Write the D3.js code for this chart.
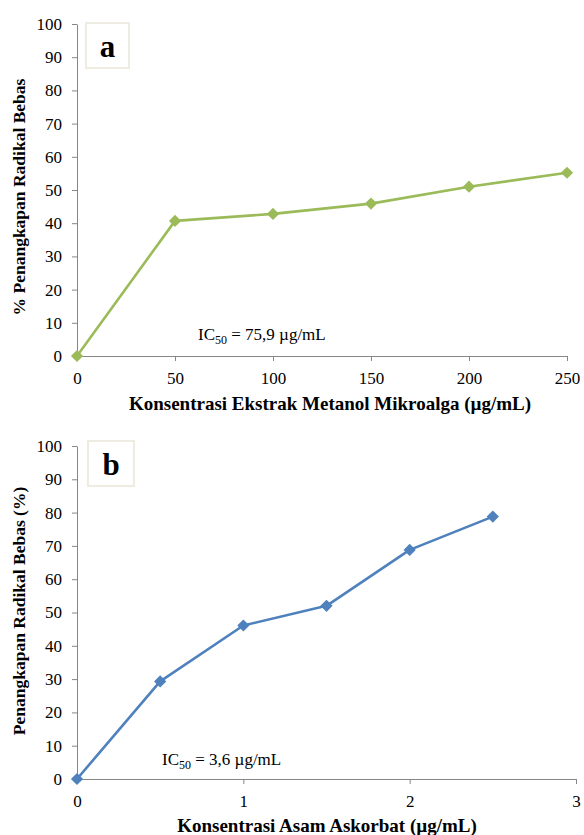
<!DOCTYPE html>
<html>
<head>
<meta charset="utf-8">
<script src="https://cdn.jsdelivr.net/npm/d3@7"></script>
<style>
  body { margin: 0; background: #fff; }
  svg text { font-family: "Liberation Serif", "Times New Roman", serif; fill: #000; }
</style>
</head>
<body>
<div id="chart"></div>
<script>
// panel a: ekstrak metanol mikroalga
const konsentrasiA = [0, 50, 100, 150, 200, 250];
const penangkapanA = [0, 40.7, 42.8, 45.9, 51.0, 55.2];
const ticksXA = [0, 50, 100, 150, 200, 250];

// panel b: asam askorbat
const konsentrasiB = [0, 0.5, 1, 1.5, 2, 2.5];
const penangkapanB = [0, 29.3, 46.1, 52.0, 68.8, 78.8];
const ticksXB = [0, 1, 2, 3];

const ticksY = [0, 10, 20, 30, 40, 50, 60, 70, 80, 90, 100];

const svg = d3.select("#chart").append("svg").attr("width", 584).attr("height", 835);

function gambarPanel(cfg) {
    const x = d3.scaleLinear().domain(cfg.domainX).range([77, cfg.xKanan]);
    const y = d3.scaleLinear().domain([0, 100]).range([cfg.y0, cfg.y100]);
    const g = svg.append("g");

    // sumbu y
    const sumbuY = g.append("g").attr("transform", "translate(77,0)")
        .call(d3.axisLeft(y).tickValues(ticksY).tickFormat(d3.format("d")).tickSize(5).tickPadding(10).tickSizeOuter(0));
    sumbuY.select(".domain").attr("stroke", "#868686");
    sumbuY.selectAll(".tick line").attr("stroke", "#868686");
    sumbuY.selectAll(".tick text").style("font-size", "17px").style("font-family", "Liberation Serif").attr("fill", "#000");

    // sumbu x
    const sumbuX = g.append("g").attr("transform", `translate(0,${cfg.y0})`)
        .call(d3.axisBottom(x).tickValues(cfg.ticksX).tickFormat(d3.format("d")).tickSize(5).tickPadding(11).tickSizeOuter(0));
    sumbuX.select(".domain").attr("stroke", "#868686");
    sumbuX.selectAll(".tick line").attr("stroke", "#868686");
    sumbuX.selectAll(".tick text").style("font-size", "17px").style("font-family", "Liberation Serif").attr("fill", "#000");

    // garis data
    const garis = d3.line().x(d => x(d[0])).y(d => y(d[1]));
    const pts = cfg.xs.map((v, i) => [v, cfg.ys[i]]);
    g.append("path").datum(pts)
        .attr("d", garis)
        .attr("fill", "none")
        .attr("stroke", cfg.warna)
        .attr("stroke-width", 2.6)
        .attr("stroke-linejoin", "round");

    g.selectAll(".penanda").data(pts).enter().append("path")
        .attr("class", "penanda")
        .attr("transform", d => `translate(${x(d[0])},${y(d[1])})`)
        .attr("d", d3.symbol().type(d3.symbolDiamond2).size(95))
        .attr("fill", cfg.warna);

    // kotak label
    g.append("rect")
        .attr("x", cfg.kotak[0]).attr("y", cfg.kotak[1])
        .attr("width", cfg.kotak[2]).attr("height", cfg.kotak[3])
        .attr("fill", "#fff").attr("stroke", "#eeece1").attr("stroke-width", 2);
    g.append("text")
        .attr("x", cfg.kotak[0] + cfg.kotak[2] / 2)
        .attr("y", cfg.kotak[1] + cfg.kotak[3] / 2 + 11)
        .attr("text-anchor", "middle")
        .style("font-size", "31px").style("font-weight", "bold")
        .text(cfg.huruf);

    // IC50
    const ic = g.append("text").attr("x", cfg.icPos[0]).attr("y", cfg.icPos[1]).style("font-size", "17px");
    ic.append("tspan").text("IC");
    ic.append("tspan").attr("dy", 4).style("font-size", "12px").text("50");
    ic.append("tspan").attr("dy", -4).text(` = ${cfg.ic50} µg/mL`);

    // judul sumbu
    g.append("text")
        .attr("transform", `translate(${cfg.judulY[0]},${cfg.judulY[1]}) rotate(-90)`)
        .attr("text-anchor", "middle")
        .style("font-size", "17.5px").style("font-weight", "bold")
        .text(cfg.labelY);
    g.append("text")
        .attr("x", cfg.judulX[0]).attr("y", cfg.judulX[1])
        .attr("text-anchor", "middle")
        .style("font-size", "19px").style("font-weight", "bold")
        .text(cfg.labelX);
}

gambarPanel({
    domainX: [0, 250], xKanan: 567, y0: 356, y100: 24,
    ticksX: ticksXA, xs: konsentrasiA, ys: penangkapanA,
    warna: "#9bbb59", huruf: "a", kotak: [86, 23, 43, 45],
    icPos: [198, 340], ic50: "75,9",
    labelY: "% Penangkapan Radikal Bebas", judulY: [25, 197],
    labelX: "Konsentrasi Ekstrak Metanol Mikroalga (µg/mL)", judulX: [330, 410]
});

gambarPanel({
    domainX: [0, 3], xKanan: 576, y0: 779, y100: 446,
    ticksX: ticksXB, xs: konsentrasiB, ys: penangkapanB,
    warna: "#4f81bd", huruf: "b", kotak: [88, 441, 46, 45],
    icPos: [162, 765], ic50: "3,6",
    labelY: "Penangkapan Radikal Bebas (%)", judulY: [25, 611],
    labelX: "Konsentrasi Asam Askorbat (µg/mL)", judulX: [327, 832]
});
</script>
</body>
</html>
